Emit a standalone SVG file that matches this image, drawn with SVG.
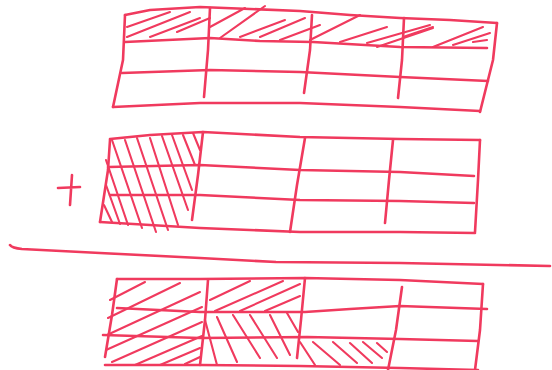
<svg xmlns="http://www.w3.org/2000/svg" width="552" height="370" viewBox="0 0 552 370">
<style>
.s{fill:none;stroke:#f03a5e;stroke-width:2.6;stroke-linecap:round;stroke-linejoin:round}
.h{fill:none;stroke:#f03a5e;stroke-width:2.1;stroke-linecap:round}
</style>
<rect width="552" height="370" fill="#ffffff"/>
<g id="grid-top">
<polyline class="s" points="125,15 150,10 200,7 250,9 300,11 350,15 400,18 450,20 497,23"/>
<polyline class="s" points="125,15 123,60 113,107"/>
<polyline class="s" points="497,23 493,60 480,112"/>
<polyline class="s" points="113,107 200,103 300,103 400,107 480,111"/>
<polyline class="s" points="125,42 210,38 260,41 313,42 400,47 487,48"/>
<polyline class="s" points="122,73 210,70 300,72 400,77 488,81"/>
<polyline class="s" points="210,8 208,50 204,97"/>
<polyline class="s" points="312,15 310,50 304,93"/>
<polyline class="s" points="404,18 402,60 398,98"/>
<path class="h" d="M127,27L170,12M127,37L190,12M150,37L200,18M177,32L210,18M210,27L245,8M220,38L265,6M240,37L285,20M260,37L305,18M280,40L320,25M310,40L360,15M340,42L387,27M367,43L430,25M377,47L433,28M403,37L433,27M433,47L483,27M453,45L490,33M473,42L487,40"/>
</g>
<g id="plus">
<path class="s" d="M58,188L80,187M72,175L70,205"/>
</g>
<g id="grid-second">
<polyline class="s" points="110,139 150,135 203,132 300,137 400,139 480,140"/>
<polyline class="s" points="110,140 108,170 100,222"/>
<polyline class="s" points="480,140 478,180 475,232"/>
<polyline class="s" points="100,222 200,228 300,232 400,232 475,233"/>
<polyline class="s" points="108,167 200,165 300,170 400,172 474,176"/>
<polyline class="s" points="110,195 200,195 300,200 400,201 474,203"/>
<polyline class="s" points="203,132 198,175 192,220"/>
<polyline class="s" points="305,138 297,185 290,232"/>
<polyline class="s" points="393,140 389,180 385,223"/>
<path class="h" d="M106,160L128,225M106,185L120,224M112,140L142,228M125,140L156,232M137,138L168,230M150,138L178,225M162,136L188,210M172,135L192,190M183,135L195,165M193,133L200,150M104,205L112,222"/>
</g>
<g id="divider">
<path class="s" d="M10,245Q12,248 22,249L100,253L200,258L276,262L400,263L550,266"/>
</g>
<g id="grid-result">
<polyline class="s" points="117,279 200,279 305,278 400,280 483,284"/>
<polyline class="s" points="117,279 112,315 105,357"/>
<polyline class="s" points="483,284 480,330 475,370"/>
<polyline class="s" points="105,365 200,365 300,366 400,368 478,370"/>
<polyline class="s" points="117,308 200,312 305,312 350,309 400,306 487,309"/>
<polyline class="s" points="103,335 200,338 307,337 400,339 478,341"/>
<polyline class="s" points="208,280 205,320 200,365"/>
<polyline class="s" points="305,278 301,320 297,358"/>
<polyline class="s" points="402,287 396,330 388,370"/>
<path class="h" d="M110,300L145,282M108,318L180,283M107,335L200,292M106,350L202,307M112,362L202,322M135,365L202,336M160,365L200,348M185,364L200,357M210,300L250,281M215,311L283,281M240,311L300,284M265,311L300,296"/>
<path class="h" d="M205,320L217,365M217,317L237,362M233,315L260,358M250,315L277,358M270,315L290,355M287,313L298,332M300,342L315,365M313,342L340,365M333,342L357,363M350,343L372,363M363,342L382,358M377,343L387,352"/>
</g>
</svg>
